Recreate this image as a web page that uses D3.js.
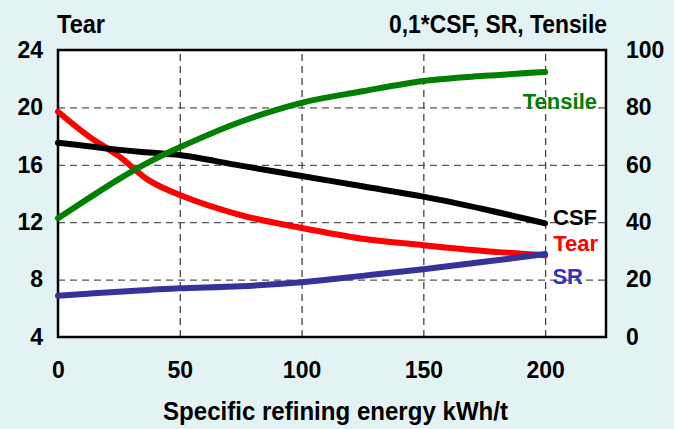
<!DOCTYPE html>
<html>
<head>
<meta charset="utf-8">
<script src="https://cdn.jsdelivr.net/npm/d3@7"></script>
<style>
  body { margin: 0; background: #fff; }
  text { font-family: 'Liberation Sans Narrow', 'Liberation Sans', Arial, sans-serif; font-weight: bold; }
</style>
</head>
<body>
<div id="graf"></div>
<script>
// datos
energia = [0, 12.5, 25, 37.5, 50, 75, 100, 125, 150, 175, 200]
tear     = [19.7, 18.0, 16.6, 14.9, 13.9, 12.5, 11.6, 10.85, 10.4, 10.0, 9.7]
csf      = [67.7, 66.5, 65.2, 64.3, 63.4, 59.7, 56.1, 52.5, 48.9, 44.5, 39.6]
tensile  = [41.4, 48.3, 55.0, 61.0, 66.1, 75.0, 81.6, 85.6, 89.2, 91.0, 92.3]
sr       = [14.4, 15.1, 15.8, 16.4, 17.0, 17.7, 19.1, 21.3, 23.6, 26.2, 28.9]

xTicks = [0, 50, 100, 150, 200]
yLeftTicks = [4, 8, 12, 16, 20, 24]
yRightTicks = [0, 20, 40, 60, 80, 100]

ancho_total = 677
alto_total = 429
margins = { top: 50, left: 58, right: 71, bottom: 92 }
ancho = ancho_total - margins.left - margins.right
alto = alto_total - margins.top - margins.bottom

svg = d3.select('#graf').append('svg')
  .attr('width', ancho_total)
  .attr('height', alto_total)

svg.append('rect')
  .attr('width', 674).attr('height', alto_total)
  .attr('fill', '#E3F2F2')

g = svg.append('g')
  .attr('transform', `translate(${margins.left}, ${margins.top})`)

x = d3.scaleLinear().domain([0, 225]).range([0, ancho])
yL = d3.scaleLinear().domain([4, 24]).range([alto, 0])
yR = d3.scaleLinear().domain([0, 100]).range([alto, 0])

g.append('rect')
  .attr('width', ancho).attr('height', alto)
  .attr('fill', '#fff')

// rejilla
g.append('g')
  .call(d3.axisBottom(x).tickValues(xTicks.slice(1)).tickFormat('').tickSize(-alto))
  .attr('transform', `translate(0,${alto})`)
  .call(a => a.select('.domain').remove())
  .selectAll('line').attr('stroke', '#444').attr('stroke-width', 1.3).attr('stroke-dasharray', '7,5')

g.append('g')
  .call(d3.axisLeft(yL).tickValues(yLeftTicks.slice(1, -1)).tickFormat('').tickSize(-ancho))
  .call(a => a.select('.domain').remove())
  .selectAll('line').attr('stroke', '#555').attr('stroke-width', 1.3).attr('stroke-dasharray', '7,5')

// ejes (solo etiquetas)
ejeL = g.append('g')
  .call(d3.axisLeft(yL).tickValues(yLeftTicks).tickSize(0).tickPadding(15))
ejeR = g.append('g')
  .attr('transform', `translate(${ancho},0)`)
  .call(d3.axisRight(yR).tickValues(yRightTicks).tickSize(0).tickPadding(20))
ejeX = g.append('g')
  .attr('transform', `translate(0,${alto})`)
  .call(d3.axisBottom(x).tickValues(xTicks).tickSize(0).tickPadding(25))

;[ejeL, ejeR, ejeX].forEach(e => {
  e.select('.domain').remove()
  e.selectAll('text')
    .attr('font-family', "'Liberation Sans Narrow', 'Liberation Sans', Arial, sans-serif")
    .attr('font-weight', 'bold')
    .attr('font-size', '23px')
    .attr('fill', '#000')
})

g.append('rect')
  .attr('width', ancho).attr('height', alto)
  .attr('fill', 'none')
  .attr('stroke', '#000')
  .attr('stroke-width', 2.5)

// series
series = [
  { valores: tear, escala: yL, color: '#FF0000' },
  { valores: csf, escala: yR, color: '#000000' },
  { valores: tensile, escala: yR, color: '#008000' },
  { valores: sr, escala: yR, color: '#333399' }
]

series.forEach(s => {
  linea = d3.line()
    .x((d, i) => x(energia[i]))
    .y(d => s.escala(d))
    .curve(d3.curveCatmullRom)
  g.append('path')
    .datum(s.valores)
    .attr('d', linea)
    .attr('fill', 'none')
    .attr('stroke', s.color)
    .attr('stroke-width', 6)
    .attr('stroke-linecap', 'round')
})

// etiquetas de series
etiquetas = [
  { texto: 'Tensile', x: 597, y: 109, color: '#008000' },
  { texto: 'CSF', x: 597, y: 225, color: '#000000' },
  { texto: 'Tear', x: 598, y: 251, color: '#FF0000' },
  { texto: 'SR', x: 583, y: 284, color: '#3333BB' }
]
svg.selectAll('.etq')
  .data(etiquetas).enter()
  .append('text')
  .attr('x', d => d.x).attr('y', d => d.y)
  .attr('text-anchor', 'end')
  .attr('font-family', "'Liberation Sans', Arial, sans-serif")
  .attr('font-size', '22px')
  .attr('fill', d => d.color)
  .text(d => d.texto)

// titulos
svg.append('text')
  .attr('x', 57).attr('y', 33)
  .attr('font-size', '25px')
  .attr('textLength', 48).attr('lengthAdjust', 'spacingAndGlyphs')
  .text('Tear')
svg.append('text')
  .attr('x', 389).attr('y', 33)
  .attr('font-size', '25px')
  .attr('textLength', 218).attr('lengthAdjust', 'spacingAndGlyphs')
  .text('0,1*CSF, SR, Tensile')
svg.append('text')
  .attr('x', 163).attr('y', 420)
  .attr('font-size', '25px')
  .attr('textLength', 345).attr('lengthAdjust', 'spacingAndGlyphs')
  .text('Specific refining energy kWh/t')
</script>
</body>
</html>
